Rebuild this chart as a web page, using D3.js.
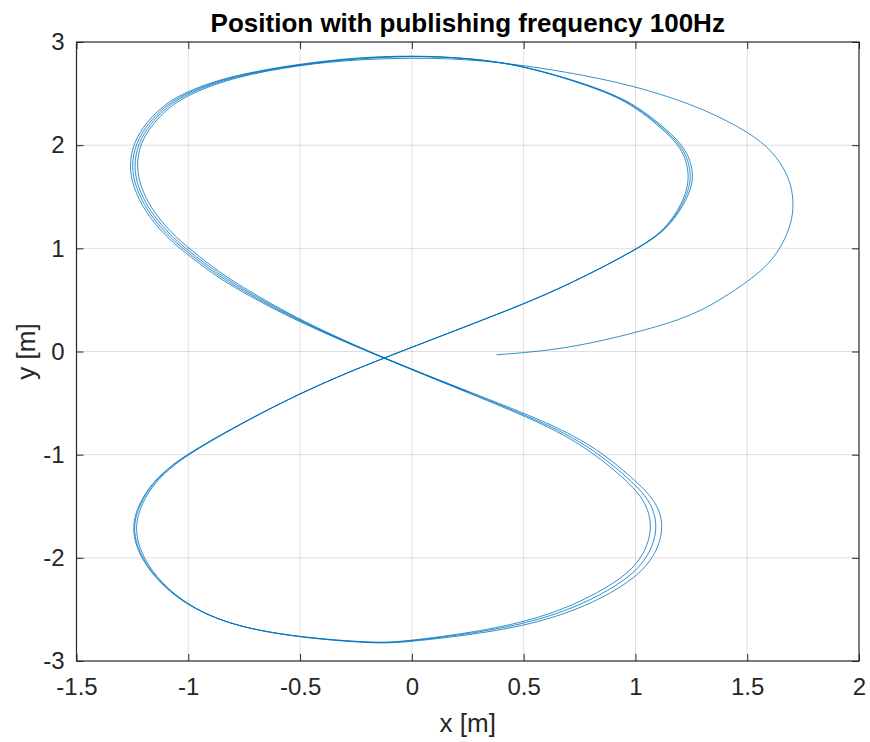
<!DOCTYPE html>
<html>
<head>
<meta charset="utf-8">
<script src="https://cdn.jsdelivr.net/npm/d3@7"></script>
<style>
  html, body { margin: 0; padding: 0; background: #fff; }
  svg { display: block; }
  text { font-family: "Liberation Sans", Arial, Helvetica, sans-serif; }
</style>
</head>
<body>
<script>
// ---- data (units: metres) ----
const xTicks = [-1.5, -1, -0.5, 0, 0.5, 1, 1.5, 2];
const yTicks = [-3, -2, -1, 0, 1, 2, 3];

// initial transient: start near (0.38, -0.03), wide loop to the right
const startX = [0.379, 0.618, 0.85, 1.10, 1.289, 1.497, 1.600, 1.662, 1.698, 1.708, 1.698, 1.662, 1.600, 1.500, 1.289, 0.989, 0.692, 0.394, 0.094];
const startY = [-0.032, 0.008, 0.10, 0.24, 0.375, 0.665, 0.850, 1.050, 1.250, 1.420, 1.610, 1.790, 1.970, 2.135, 2.372, 2.582, 2.711, 2.807, 2.852];

// lap 1
const lap1X = [-0.25,-0.50,-0.79,-0.99,-1.085,-1.158,-1.217,-1.232,-1.214,-1.164,-1.078,-0.984,-0.860,-0.758,-0.495,-0.128,0.25,0.625,0.835,1.010,1.098,1.128,1.094,1.002,0.850,0.698,0.502,0.247,-0.053,-0.17,-0.50,-0.80,-0.998,-1.122,-1.200,-1.240,-1.222,-1.164,-1.091,-0.975,-0.50,-0.053,0.498,0.75,1.003,1.143,1.232,1.266,1.232,1.143,1.003,0.843,0.499,0.245,0.0];
const lap1Y = [2.832,2.778,2.664,2.500,2.372,2.210,2.015,1.790,1.598,1.376,1.152,0.975,0.768,0.623,0.295,-0.064,-0.385,-0.700,-0.948,-1.268,-1.468,-1.700,-1.965,-2.195,-2.392,-2.535,-2.660,-2.752,-2.824,-2.830,-2.776,-2.662,-2.468,-2.240,-2.014,-1.758,-1.533,-1.309,-1.147,-0.954,-0.387,0.0,0.452,0.70,0.985,1.178,1.470,1.695,1.955,2.148,2.390,2.552,2.777,2.845,2.866];

// lap 2
const lap2X = [-0.25,-0.50,-0.80,-1.00,-1.095,-1.168,-1.226,-1.244,-1.226,-1.176,-1.090,-0.995,-0.868,-0.765,-0.498,-0.128,0.25,0.617,0.818,0.994,1.072,1.101,1.070,0.985,0.838,0.690,0.497,0.245,-0.053,-0.17,-0.50,-0.80,-1.000,-1.126,-1.206,-1.249,-1.230,-1.170,-1.096,-0.977,-0.50,-0.053,0.498,0.75,1.001,1.138,1.225,1.255,1.224,1.136,0.998,0.840,0.498,0.245,0.0];
const lap2Y = [2.838,2.782,2.668,2.505,2.376,2.214,2.018,1.791,1.596,1.372,1.146,0.968,0.760,0.615,0.290,-0.064,-0.392,-0.710,-0.955,-1.274,-1.468,-1.692,-1.950,-2.175,-2.368,-2.514,-2.644,-2.742,-2.819,-2.827,-2.774,-2.662,-2.469,-2.242,-2.016,-1.758,-1.532,-1.307,-1.145,-0.952,-0.387,0.0,0.452,0.70,0.985,1.176,1.468,1.694,1.952,2.145,2.387,2.550,2.776,2.846,2.868];

// lap 3
const lap3X = [-0.25,-0.50,-0.805,-1.008,-1.104,-1.178,-1.236,-1.255,-1.236,-1.186,-1.100,-1.004,-0.876,-0.772,-0.501,-0.128,0.25,0.610,0.802,0.978,1.048,1.076,1.048,0.968,0.826,0.682,0.492,0.243,-0.053,-0.17,-0.50,-0.80,-1.002,-1.129,-1.210,-1.253,-1.234,-1.174,-1.099,-0.979,-0.50,-0.053,0.498,0.75,1.000,1.134,1.218,1.245,1.216,1.130,0.994,0.837,0.497,0.245,0.0];
const lap3Y = [2.844,2.786,2.672,2.510,2.380,2.218,2.020,1.792,1.594,1.368,1.140,0.961,0.752,0.607,0.285,-0.064,-0.398,-0.718,-0.962,-1.280,-1.468,-1.686,-1.938,-2.158,-2.346,-2.495,-2.630,-2.734,-2.815,-2.824,-2.772,-2.662,-2.470,-2.244,-2.018,-1.758,-1.531,-1.305,-1.143,-0.950,-0.387,0.0,0.452,0.70,0.985,1.174,1.466,1.693,1.950,2.142,2.384,2.548,2.775,2.847,2.870];

// final partial lap (upper-left lobe down to the crossing)
const endX = [-0.25,-0.50,-0.81,-1.016,-1.113,-1.188,-1.246,-1.265,-1.246,-1.196,-1.110,-1.013,-0.884,-0.779,-0.504,-0.128,0.25];
const endY = [2.850,2.790,2.676,2.515,2.384,2.222,2.022,1.793,1.592,1.364,1.134,0.954,0.744,0.599,0.280,-0.064,-0.39];

// ---- layout ----
const W = 870, H = 742;
const L = 76.5, R = 859, T = 42, B = 661;
const axisColor = "#262626";

const svg = d3.select("body").append("svg").attr("width", W).attr("height", H);
svg.append("rect").attr("width", W).attr("height", H).attr("fill", "#fff");

const x = d3.scaleLinear().domain([-1.5, 2]).range([L, R]);
const y = d3.scaleLinear().domain([-3, 3]).range([B, T]);

// grid
const grid = svg.append("g");
grid.selectAll(".gx").data(xTicks.filter(d => d > -1.5 && d < 2)).join("line")
  .attr("x1", d => x(d)).attr("x2", d => x(d)).attr("y1", T).attr("y2", B)
  .attr("stroke", axisColor).attr("stroke-opacity", 0.15).attr("stroke-width", 1);
grid.selectAll(".gy").data(yTicks.filter(d => d > -3 && d < 3)).join("line")
  .attr("y1", d => y(d)).attr("y2", d => y(d)).attr("x1", L).attr("x2", R)
  .attr("stroke", axisColor).attr("stroke-opacity", 0.15).attr("stroke-width", 1);

// trajectory
const px = [].concat(startX, lap1X, lap2X, lap3X, endX);
const py = [].concat(startY, lap1Y, lap2Y, lap3Y, endY);
const pts = px.map((v, i) => [v, py[i]]);
const line = d3.line().x(d => x(d[0])).y(d => y(d[1])).curve(d3.curveBasis);
svg.append("path").datum(pts).attr("d", line)
  .attr("fill", "none").attr("stroke", "#0072BD").attr("stroke-width", 0.8)
  .attr("stroke-linejoin", "round");

// axes
const fmt = d => String(d);
const styleAxis = g => {
  g.select(".domain").remove();
  g.selectAll(".tick line").attr("stroke", axisColor);
  g.selectAll(".tick text").attr("fill", axisColor).attr("font-size", 24)
    .attr("font-family", '"Liberation Sans", Arial, Helvetica, sans-serif');
};
svg.append("g").attr("transform", `translate(0,${B})`)
  .call(d3.axisBottom(x).tickValues(xTicks).tickFormat(fmt).tickSize(-7).tickPadding(17))
  .call(styleAxis);
svg.append("g").attr("transform", `translate(${L},0)`)
  .call(d3.axisLeft(y).tickValues(yTicks).tickFormat(fmt).tickSize(-7).tickPadding(12))
  .call(styleAxis);
svg.append("g").attr("transform", `translate(0,${T})`)
  .call(d3.axisTop(x).tickValues(xTicks).tickFormat("").tickSize(-7))
  .call(styleAxis);
svg.append("g").attr("transform", `translate(${R},0)`)
  .call(d3.axisRight(y).tickValues(yTicks).tickFormat("").tickSize(-7))
  .call(styleAxis);

// box
svg.append("rect").attr("x", L).attr("y", T).attr("width", R - L).attr("height", B - T)
  .attr("fill", "none").attr("stroke", axisColor).attr("stroke-width", 1.2);

// title and labels
svg.append("text").attr("x", (L + R) / 2).attr("y", 32).attr("text-anchor", "middle")
  .attr("font-size", 26).attr("font-weight", "bold").attr("fill", "#000")
  .text("Position with publishing frequency 100Hz");
svg.append("text").attr("x", (L + R) / 2).attr("y", 732).attr("text-anchor", "middle")
  .attr("font-size", 26).attr("fill", axisColor).text("x [m]");
svg.append("text").attr("transform", `translate(35,${(T + B) / 2}) rotate(-90)`)
  .attr("text-anchor", "middle").attr("font-size", 26).attr("fill", axisColor).text("y [m]");
</script>
</body>
</html>
